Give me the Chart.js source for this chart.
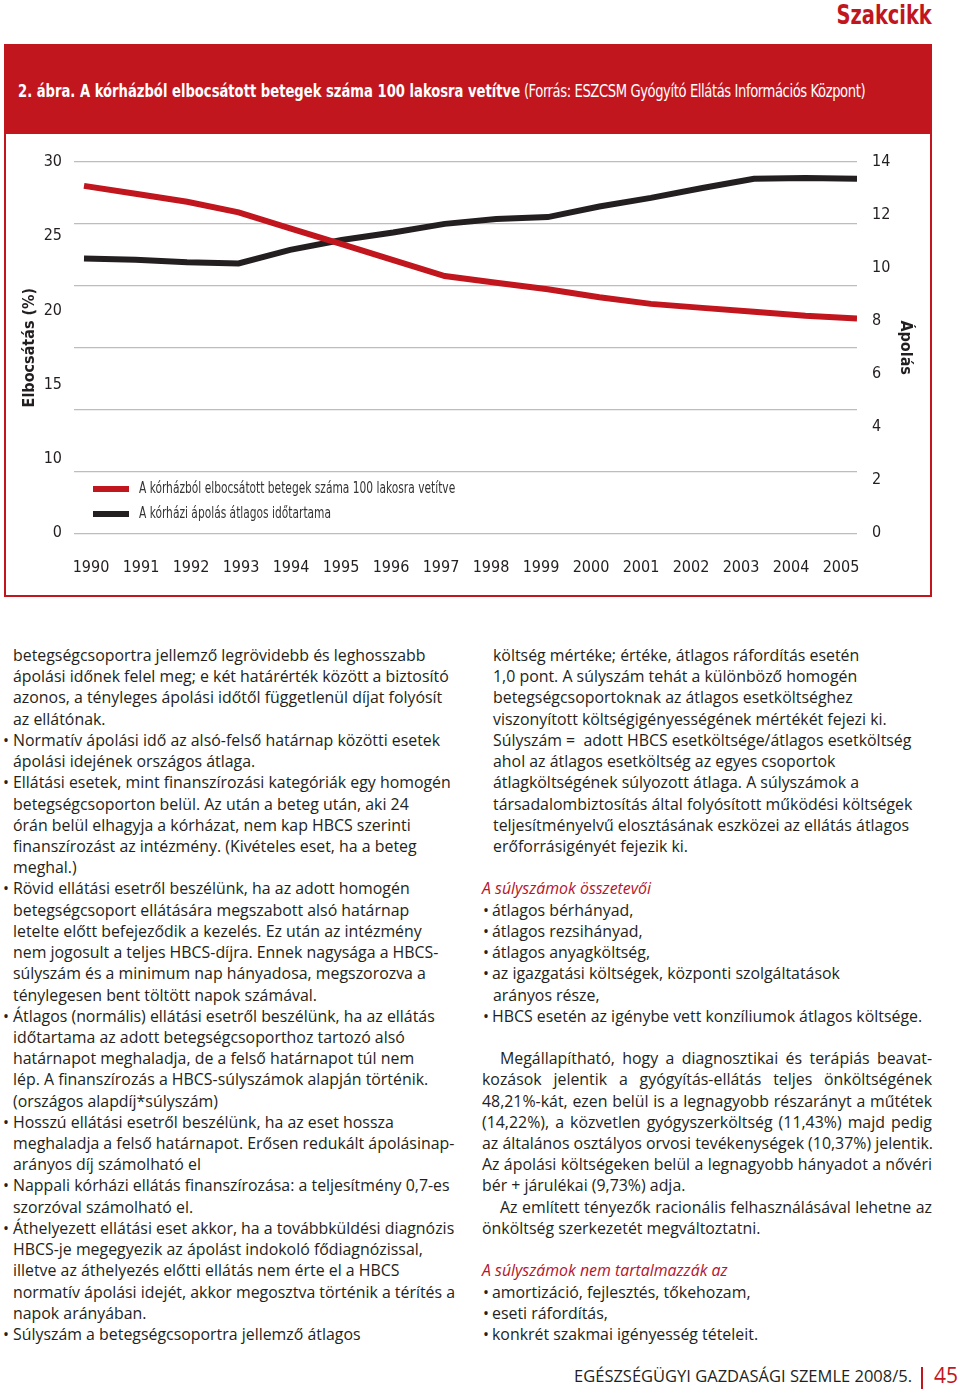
<!DOCTYPE html>
<html lang="hu">
<head>
<meta charset="utf-8">
<title>2. ábra – A kórházból elbocsátott betegek száma</title>
<script src="https://cdn.jsdelivr.net/npm/chart.js@4.4.1/dist/chart.umd.min.js"></script>
<style>
  html, body { margin: 0; padding: 0; background: #fff; }
  body {
    position: relative; width: 960px; height: 1395px; overflow: hidden;
    font-family: 'Open Sans', 'Noto Sans', sans-serif; font-size: 15.9px; color: #231f20;
  }
  .cond { font-family: 'Liberation Sans Narrow', 'DejaVu Sans Condensed', 'Arial Narrow', sans-serif; font-stretch: condensed; }
  #rovat { position: absolute; right: 28px; top: 0px; font-size: 26px; font-weight: bold; color: #c2161f;
           transform: scaleX(0.83); transform-origin: right center; }
  #frame { position: absolute; left: 4px; top: 44px; width: 928px; height: 553px; box-sizing: border-box; border: 2px solid #c2161f; }
  #titlebar { position: absolute; left: 0; top: 0; right: 0; height: 88px; background: #c2161f; }
  #title { position: absolute; left: 12px; top: 34px; line-height: 22px; color: #fff; font-size: 18px; white-space: nowrap;
           transform: scaleX(0.812); transform-origin: left center; }
  #title b { font-weight: bold; }
  #title .src { letter-spacing: -0.5px; }
  #chart { position: absolute; left: 0; top: 90px; }
  #legend { position: absolute; left: 87px; top: 430px; font-size: 15px; color: #333; }
  .lg { height: 25px; line-height: 25px; white-space: nowrap; }
  .sw { display: inline-block; width: 36px; height: 6px; vertical-align: middle; margin-right: 10px; }
  .lt { display: inline-block; vertical-align: middle; transform: scaleX(0.79); transform-origin: left center; }
  .col { position: absolute; top: 645px; }
  .l { position: relative; height: 21.22px; line-height: 21.22px; white-space: nowrap; }
  .bu { position: absolute; left: 0; }
  #left { left: 0; }
  #left .l { padding-left: 13px; }
  #left .bu { left: 3px; }
  #right { left: 482px; width: 450px; }
  #right .l { padding-left: 11px; }
  #right .l.b { padding-left: 10px; }
  #right .bu { left: 1px; }
  #right .h { padding-left: 0; color: #b5142b; font-style: italic; }
  #right .j { padding-left: 0; width: 450px; text-align: justify; text-align-last: justify; }
  #right .j.ind { padding-left: 18px; width: 432px; }
  #right .p0 { padding-left: 0; }
  #foot { position: absolute; right: 48px; top: 1364px; font-size: 16.5px; color: #231f20; white-space: nowrap; }
  #bar { position: absolute; left: 921px; top: 1367px; width: 2px; height: 22px; background: #c2161f; }
  #page { position: absolute; left: 934px; top: 1361px; font-size: 21px; color: #c2161f; }
</style>
</head>
<body>
<div id="rovat" class="cond">Szakcikk</div>

<div id="frame">
  <div id="titlebar"></div>
  <div id="title" class="cond"><b>2. ábra. A kórházból elbocsátott betegek száma 100 lakosra vetítve</b><span class="src"> (Forrás: ESZCSM Gyógyító Ellátás Információs Központ)</span></div>
  <canvas id="chart" width="924" height="459"></canvas>
  <div id="legend" class="cond"></div>
</div>

<div id="left" class="col">
  <div class="l">betegségcsoportra jellemző legrövidebb és leghosszabb</div>
  <div class="l">ápolási időnek felel meg; e két határérték között a biztosító</div>
  <div class="l">azonos, a tényleges ápolási időtől függetlenül díjat folyósít</div>
  <div class="l">az ellátónak.</div>
  <div class="l"><span class="bu">•</span>Normatív ápolási idő az alsó-felső határnap közötti esetek</div>
  <div class="l">ápolási idejének országos átlaga.</div>
  <div class="l"><span class="bu">•</span>Ellátási esetek, mint finanszírozási kategóriák egy homogén</div>
  <div class="l">betegségcsoporton belül. Az után a beteg után, aki 24</div>
  <div class="l">órán belül elhagyja a kórházat, nem kap HBCS szerinti</div>
  <div class="l">finanszírozást az intézmény. (Kivételes eset, ha a beteg</div>
  <div class="l">meghal.)</div>
  <div class="l"><span class="bu">•</span>Rövid ellátási esetről beszélünk, ha az adott homogén</div>
  <div class="l">betegségcsoport ellátására megszabott alsó határnap</div>
  <div class="l">letelte előtt befejeződik a kezelés. Ez után az intézmény</div>
  <div class="l">nem jogosult a teljes HBCS-díjra. Ennek nagysága a HBCS-</div>
  <div class="l">súlyszám és a minimum nap hányadosa, megszorozva a</div>
  <div class="l">ténylegesen bent töltött napok számával.</div>
  <div class="l"><span class="bu">•</span>Átlagos (normális) ellátási esetről beszélünk, ha az ellátás</div>
  <div class="l">időtartama az adott betegségcsoporthoz tartozó alsó</div>
  <div class="l">határnapot meghaladja, de a felső határnapot túl nem</div>
  <div class="l">lép. A finanszírozás a HBCS-súlyszámok alapján történik.</div>
  <div class="l">(országos alapdíj*súlyszám)</div>
  <div class="l"><span class="bu">•</span>Hosszú ellátási esetről beszélünk, ha az eset hossza</div>
  <div class="l">meghaladja a felső határnapot. Erősen redukált ápolásinap-</div>
  <div class="l">arányos díj számolható el</div>
  <div class="l"><span class="bu">•</span>Nappali kórházi ellátás finanszírozása: a teljesítmény 0,7-es</div>
  <div class="l">szorzóval számolható el.</div>
  <div class="l"><span class="bu">•</span>Áthelyezett ellátási eset akkor, ha a továbbküldési diagnózis</div>
  <div class="l">HBCS-je megegyezik az ápolást indokoló fődiagnózissal,</div>
  <div class="l">illetve az áthelyezés előtti ellátás nem érte el a HBCS</div>
  <div class="l">normatív ápolási idejét, akkor megosztva történik a térítés a</div>
  <div class="l">napok arányában.</div>
  <div class="l"><span class="bu">•</span>Súlyszám a betegségcsoportra jellemző átlagos</div>
</div>

<div id="right" class="col">
  <div class="l">költség mértéke; értéke, átlagos ráfordítás esetén</div>
  <div class="l">1,0 pont. A súlyszám tehát a különböző homogén</div>
  <div class="l">betegségcsoportoknak az átlagos esetköltséghez</div>
  <div class="l">viszonyított költségigényességének mértékét fejezi ki.</div>
  <div class="l">Súlyszám =&nbsp; adott HBCS esetköltsége/átlagos esetköltség</div>
  <div class="l">ahol az átlagos esetköltség az egyes csoportok</div>
  <div class="l">átlagköltségének súlyozott átlaga. A súlyszámok a</div>
  <div class="l">társadalombiztosítás által folyósított működési költségek</div>
  <div class="l">teljesítményelvű elosztásának eszközei az ellátás átlagos</div>
  <div class="l">erőforrásigényét fejezik ki.</div>
  <div class="l"></div>
  <div class="l h">A súlyszámok összetevői</div>
  <div class="l b"><span class="bu">•</span>átlagos bérhányad,</div>
  <div class="l b"><span class="bu">•</span>átlagos rezsihányad,</div>
  <div class="l b"><span class="bu">•</span>átlagos anyagköltség,</div>
  <div class="l b"><span class="bu">•</span>az igazgatási költségek, központi szolgáltatások</div>
  <div class="l">arányos része,</div>
  <div class="l b"><span class="bu">•</span>HBCS esetén az igénybe vett konzíliumok átlagos költsége.</div>
  <div class="l"></div>
  <div class="l j ind">Megállapítható, hogy a diagnosztikai és terápiás beavat-</div>
  <div class="l j">kozások jelentik a gyógyítás-ellátás teljes önköltségének</div>
  <div class="l j">48,21%-kát, ezen belül is a legnagyobb részarányt a műtétek</div>
  <div class="l j">(14,22%), a közvetlen gyógyszerköltség (11,43%) majd pedig</div>
  <div class="l j">az általános osztályos orvosi tevékenységek (10,37%) jelentik.</div>
  <div class="l j">Az ápolási költségeken belül a legnagyobb hányadot a nővéri</div>
  <div class="l p0">bér + járulékai (9,73%) adja.</div>
  <div class="l j ind">Az említett tényezők racionális felhasználásával lehetne az</div>
  <div class="l p0">önköltség szerkezetét megváltoztatni.</div>
  <div class="l"></div>
  <div class="l h">A súlyszámok nem tartalmazzák az</div>
  <div class="l b"><span class="bu">•</span>amortizáció, fejlesztés, tőkehozam,</div>
  <div class="l b"><span class="bu">•</span>eseti ráfordítás,</div>
  <div class="l b"><span class="bu">•</span>konkrét szakmai igényesség tételeit.</div>
</div>

<div id="foot">EGÉSZSÉGÜGYI GAZDASÁGI SZEMLE 2008/5.</div>
<div id="bar"></div>
<div id="page">45</div>

<script>
// --- chart data ---
const years = [1990, 1991, 1992, 1993, 1994, 1995, 1996, 1997,
               1998, 1999, 2000, 2001, 2002, 2003, 2004, 2005];
// red line, plotted against the right-hand "Ápolás" axis
const dischargeRate = [13.1, 12.8, 12.5, 12.1, 11.5, 10.9, 10.3, 9.7,
                       9.45, 9.2, 8.9, 8.65, 8.5, 8.35, 8.2, 8.1];
// black line, plotted against the left-hand "Elbocsátás (%)" axis
const stayLength = [22.2, 22.1, 21.9, 21.8, 22.9, 23.7, 24.3, 25.0,
                    25.4, 25.55, 26.4, 27.1, 27.9, 28.65, 28.7, 28.65];
const leftTickLabels = ['0', '10', '15', '20', '25', '30'];
const legendLabels = [
  'A kórházból elbocsátott betegek száma 100 lakosra vetítve',
  'A kórházi ápolás átlagos időtartama'
];

const RED = '#c2161f';
const INK = '#231f20';
const COND = "'Liberation Sans Narrow', 'DejaVu Sans Condensed', 'Arial Narrow', sans-serif";

const toPoints = (vals) => years.map((y, i) => ({x: y, y: vals[i]}));

const chart = new Chart(document.getElementById('chart'), {
  type: 'line',
  data: {
    datasets: [{
      label: legendLabels[0],
      data: toPoints(dischargeRate),
      xAxisID: 'x',
      yAxisID: 'y2',
      borderColor: RED,
      borderWidth: 6,
      pointRadius: 0,
      tension: 0
    }, {
      label: legendLabels[1],
      data: toPoints(stayLength),
      xAxisID: 'x',
      yAxisID: 'y',
      borderColor: INK,
      borderWidth: 6,
      pointRadius: 0,
      tension: 0
    }]
  },
  options: {
    responsive: false,
    animation: false,
    devicePixelRatio: 1,
    layout: { padding: { top: 26, left: 0, right: 0, bottom: 0 } },
    plugins: { legend: { display: false }, tooltip: { enabled: false } },
    scales: {
      x: { type: 'linear', min: 1989.806, max: 2005, display: false },
      xl: {
        type: 'linear', position: 'bottom', min: 1989.66, max: 2005.32,
        grid: { display: false, drawTicks: false },
        border: { display: false },
        ticks: {
          stepSize: 1, includeBounds: false, autoSkip: false, maxRotation: 0,
          padding: 25, color: INK, font: { family: COND, size: 16 },
          callback: (v) => String(v)
        },
        afterFit: (s) => { s.height = 61.7; }
      },
      y: {
        type: 'linear', position: 'left', min: 0, max: 30,
        ticks: { display: false, stepSize: 5 },
        grid: { color: '#bdbdbd', lineWidth: 1.2, drawTicks: false },
        border: { display: false },
        afterFit: (s) => { s.width = 0; }
      },
      yl: {
        type: 'linear', position: 'left', min: 0, max: 5,
        grid: { display: false, drawTicks: false },
        border: { display: false },
        ticks: {
          stepSize: 1, padding: 12, color: INK, font: { family: COND, size: 16 },
          callback: (v) => leftTickLabels[v]
        },
        title: {
          display: true, text: 'Elbocsátás (%)', color: INK,
          font: { family: COND, size: 16, weight: 'bold' },
          padding: { top: 14, bottom: 0 }
        },
        afterFit: (s) => { s.width = 68; }
      },
      y2: {
        type: 'linear', position: 'right', min: 0, max: 14,
        grid: { display: false, drawTicks: false },
        border: { display: false },
        ticks: { stepSize: 2, padding: 15, color: INK, font: { family: COND, size: 16 } },
        title: {
          display: true, text: 'Ápolás', color: INK,
          font: { family: COND, size: 16, weight: 'bold' },
          padding: { top: 15, bottom: 0 }
        },
        afterFit: (s) => { s.width = 73; }
      }
    }
  }
});

// legend built from the datasets
const legendEl = document.getElementById('legend');
chart.data.datasets.forEach((ds) => {
  const row = document.createElement('div');
  row.className = 'lg';
  const sw = document.createElement('span');
  sw.className = 'sw';
  sw.style.background = ds.borderColor;
  const txt = document.createElement('span');
  txt.className = 'lt';
  txt.textContent = ds.label;
  row.appendChild(sw);
  row.appendChild(txt);
  legendEl.appendChild(row);
});
</script>
</body>
</html>
